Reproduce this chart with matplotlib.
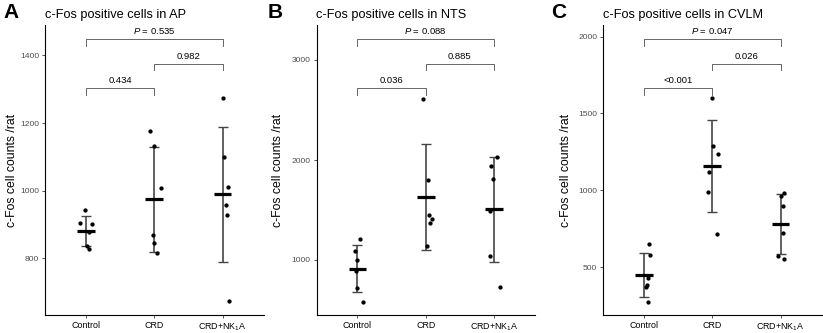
import numpy as np
import matplotlib
matplotlib.use("Agg")
import matplotlib.pyplot as plt
import matplotlib.transforms as mtransforms

plt.rcParams['font.family'] = ['Liberation Sans', 'DejaVu Sans']
plt.rcParams['mathtext.fontset'] = 'custom'
plt.rcParams['mathtext.rm'] = 'Liberation Sans'
plt.rcParams['mathtext.it'] = 'Liberation Sans:italic'

groups = ["Control", "CRD", "CRD+NK$_1$A"]

# Panel A: AP
ap_control = [943, 904, 901, 878, 836, 826]
ap_crd = [1177, 1133, 1009, 868, 845, 815]
ap_nk = [1273, 1098, 1011, 956, 927, 672]
ap_jit_control = [-0.015, -0.084, 0.093, 0.044, 0.010, 0.049]
ap_jit_crd = [-0.069, 0.0, 0.093, -0.025, 0.0, 0.034]
ap_jit_nk = [0.010, 0.025, 0.074, 0.049, 0.059, 0.093]

# Panel B: NTS
nts_control = [1207, 1090, 997, 893, 717, 583]
nts_crd = [2613, 1800, 1453, 1413, 1367, 1137]
nts_nk = [2033, 1940, 1813, 1490, 1043, 727]
nts_jit_control = [0.034, -0.039, 0.0, -0.025, 0.0, 0.088]
nts_jit_crd = [-0.044, 0.035, 0.050, 0.093, 0.069, 0.025]
nts_jit_nk = [0.039, -0.044, -0.010, -0.063, -0.058, 0.083]

# Panel C: CVLM
cvlm_control = [653, 577, 432, 382, 373, 276]
cvlm_crd = [1600, 1286, 1234, 1121, 989, 716]
cvlm_nk = [984, 965, 900, 724, 573, 551]
cvlm_jit_control = [0.079, 0.094, 0.064, 0.044, 0.030, 0.054]
cvlm_jit_crd = [-0.010, 0.015, 0.083, -0.048, -0.067, 0.073]
cvlm_jit_nk = [0.050, 0.006, 0.035, 0.030, -0.038, 0.050]

titles = ["c-Fos positive cells in AP", "c-Fos positive cells in NTS",
          "c-Fos positive cells in CVLM"]
letters = ["A", "B", "C"]
pvals_ap = ["0.434", "0.982", "$P$ = 0.535"]
pvals_nts = ["0.036", "0.885", "$P$ = 0.088"]
pvals_cvlm = ["<0.001", "0.026", "$P$ = 0.047"]

ylims = [(632, 1490), (450, 3350), (189, 2075)]
yticks = [[800, 1000, 1200, 1400], [1000, 2000, 3000], [500, 1000, 1500, 2000]]

panels = [
    ([ap_control, ap_crd, ap_nk], [ap_jit_control, ap_jit_crd, ap_jit_nk], pvals_ap),
    ([nts_control, nts_crd, nts_nk], [nts_jit_control, nts_jit_crd, nts_jit_nk], pvals_nts),
    ([cvlm_control, cvlm_crd, cvlm_nk], [cvlm_jit_control, cvlm_jit_crd, cvlm_jit_nk], pvals_cvlm),
]

W, H = 823, 333
fig = plt.figure(figsize=(W / 100, H / 100), dpi=100)
lefts_px = [45, 316.5, 603]
width_px = 218.5
bottom_px, top_px = 315, 25
letter_x_px = [3, 268, 551]
ylabel_x_px = [12, 278, 566]

errcol = "#454545"
brcol = "#666666"

for i, (data, jits, pv) in enumerate(panels):
    ax = fig.add_axes([lefts_px[i] / W, (H - bottom_px) / H, width_px / W,
                       (bottom_px - top_px) / H])
    for g, (vals, jit) in enumerate(zip(data, jits)):
        vals = np.asarray(vals, float)
        m = vals.mean()
        sd = vals.std(ddof=1)
        ax.errorbar([g], [m], yerr=[sd], fmt='none', ecolor=errcol,
                    elinewidth=1.2, capsize=3.5, capthick=1.0, zorder=2)
        ax.plot([g - 0.13, g + 0.13], [m, m], color='black', lw=2.3,
                solid_capstyle='butt', zorder=3)
        ax.scatter(g + np.asarray(jit), vals, s=9.5, color='black', zorder=4,
                   linewidths=0)
    ax.set_xlim(-0.6, 2.6)
    ax.set_ylim(*ylims[i])
    ax.set_xticks([0, 1, 2])
    ax.set_xticklabels(groups, fontsize=6.4, color='black')
    ax.set_yticks(yticks[i])
    ax.set_yticklabels([str(t) for t in yticks[i]], fontsize=6.1, color='#4d4d4d')
    ax.tick_params(axis='both', length=2.2, width=0.6, color='#333333', pad=2)
    for s in ['top', 'right']:
        ax.spines[s].set_visible(False)
    for s in ['left', 'bottom']:
        ax.spines[s].set_linewidth(0.8)
        ax.spines[s].set_color('black')

    # brackets (x in data, y in axes fraction)
    trans = mtransforms.blended_transform_factory(ax.transData, ax.transAxes)
    brackets = [((0, 1), 0.782, pv[0]), ((1, 2), 0.866, pv[1]), ((0, 2), 0.951, pv[2])]
    for (x1, x2), yb, lab in brackets:
        ax.plot([x1, x1, x2, x2], [yb - 0.022, yb, yb, yb - 0.022], color=brcol,
                lw=0.7, transform=trans, clip_on=False)
        ax.text((x1 + x2) / 2, yb + 0.027, lab, transform=trans, ha='center',
                va='center', fontsize=6.8, color='black')

    ax.text(0, (bottom_px - 15) / (bottom_px - top_px), titles[i], transform=ax.transAxes,
            ha='left', va='center', fontsize=9.2)
    fig.text(letter_x_px[i] / W, (H - 12.5) / H, letters[i], fontsize=15,
             fontweight='bold', ha='left', va='center')
    fig.text(ylabel_x_px[i] / W, (H - (bottom_px + top_px) / 2) / H,
             "c-Fos cell counts /rat", rotation=90, ha='center', va='center',
             fontsize=8.8)

fig.savefig("out.png", dpi=100)
